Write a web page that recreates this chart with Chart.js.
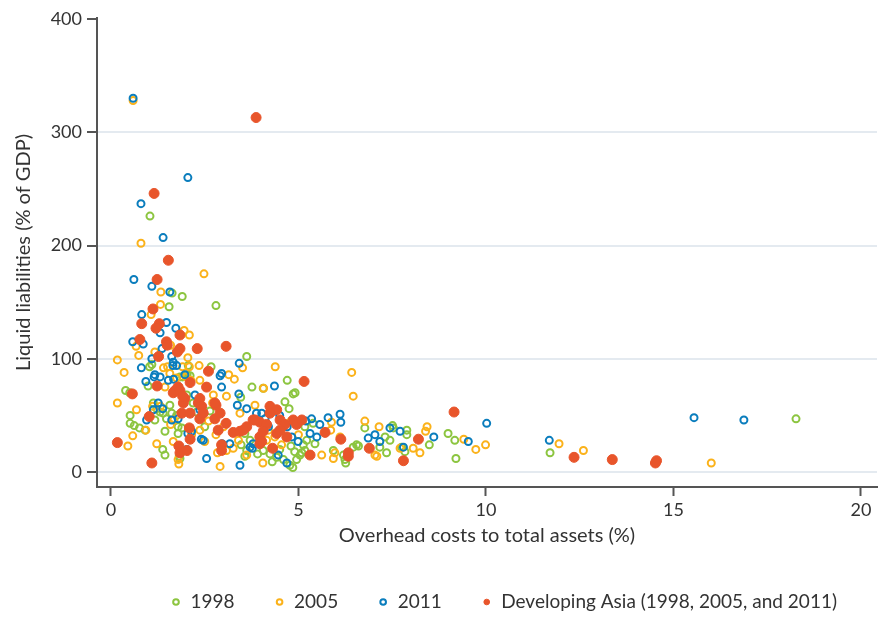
<!DOCTYPE html>
<html>
<head>
<meta charset="utf-8">
<script src="https://cdn.jsdelivr.net/npm/chart.js@4.4.1/dist/chart.umd.min.js"></script>
<style>
  html, body { margin: 0; padding: 0; background: #fff; }
  #wrap { width: 878px; height: 618px; }
</style>
</head>
<body>
<div id="wrap"><canvas id="chart" width="878" height="618"></canvas></div>
<script>
'use strict';

// Overhead costs to total assets (%) vs liquid liabilities (% of GDP)
const x1998 = [1.04, 1.63, 1.90, 1.55, 2.80, 3.62, 1.09, 1.03, 2.67, 2.06, 1.91, 2.03, 1.84, 2.11, 3.76, 4.70, 3.46, 0.39, 0.50, 0.99,
    0.51, 0.51, 0.62, 0.76, 0.91, 1.17, 1.39, 1.44, 1.38, 1.57, 1.79, 1.75, 1.82, 1.84, 1.13, 1.22, 1.31, 1.48, 1.62, 1.44,
    1.89, 1.79, 2.29, 2.19, 2.02, 3.47, 3.62, 3.57, 3.91, 4.06, 4.64, 4.75, 4.91, 4.86, 4.06, 4.24, 4.42, 4.60, 4.77, 4.95,
    5.04, 5.17, 5.13, 3.71, 5.17, 5.39, 5.22, 5.44, 6.77, 7.31, 7.44, 7.53, 7.89, 6.46, 6.20, 6.60, 5.93, 6.24, 5.09, 7.89,
    8.99, 9.17, 8.49, 9.20, 7.84, 7.75, 11.71, 18.27, 7.51, 7.17, 7.35, 6.55, 6.26, 4.50, 4.80, 4.90, 4.30, 4.85, 3.57, 2.64, 2.50];
const y1998 = [226, 158, 155, 146, 147, 102, 95, 93, 93, 94, 84, 86, 84, 85, 75, 81, 66, 72, 70, 76,
    50, 43, 41, 39, 37, 46, 52, 36, 20, 59, 40, 50, 14, 12, 61, 56, 53, 47, 52, 15,
    39, 34, 53, 61, 68, 24, 19, 14, 16, 74, 62, 56, 70, 69, 19, 16, 13, 11, 6, 11,
    15, 19, 24, 28, 40, 43, 28, 25, 39, 31, 28, 39, 37, 22, 15, 23, 19, 11, 17, 33,
    34, 28, 24, 12, 18, 22, 17, 47, 41, 22, 17, 24, 8, 20, 23, 18, 9, 4, 34, 54, 40];

const x2005 = [0.59, 0.80, 2.48, 1.33, 1.32, 1.07, 1.95, 2.09, 0.67, 1.59, 1.17, 0.74, 2.05, 0.17, 0.35, 1.40, 1.51, 1.91, 2.09, 2.35,
    3.51, 4.38, 2.13, 3.14, 3.29, 4.07, 2.73, 3.08, 0.17, 0.68, 0.58, 0.45, 0.93, 1.22, 1.11, 1.32, 1.59, 1.68, 1.66, 1.81,
    2.50, 2.91, 2.84, 3.08, 3.26, 4.05, 1.57, 1.44, 1.79, 2.37, 2.15, 2.37, 2.00, 1.75, 2.71, 3.84, 3.44, 3.62, 4.55, 3.40,
    4.15, 4.37, 6.42, 6.46, 5.88, 5.86, 6.77, 7.15, 7.04, 7.71, 5.62, 5.97, 6.11, 8.43, 8.39, 9.41, 8.06, 8.24, 9.73, 9.99,
    11.95, 12.60, 16.01, 7.09, 5.93, 2.60, 3.00, 4.80, 5.00, 4.20, 2.80];
const y2005 = [328, 202, 175, 159, 148, 139, 125, 121, 111, 112, 106, 103, 101, 99, 88, 92, 93, 93, 93, 94,
    92, 93, 81, 86, 82, 74, 68, 67, 61, 55, 32, 23, 37, 25, 58, 58, 42, 46, 27, 7,
    27, 5, 17, 19, 21, 8, 87, 75, 11, 37, 33, 81, 84, 83, 61, 59, 52, 15, 24, 28,
    28, 31, 88, 67, 44, 37, 45, 40, 15, 21, 15, 17, 31, 40, 36, 29, 21, 17, 20, 24,
    25, 19, 8, 14, 12, 45, 40, 45, 33, 37, 33];

const x2011 = [0.59, 2.05, 0.80, 1.39, 0.61, 1.09, 1.57, 0.82, 1.48, 1.31, 1.73, 0.58, 0.86, 1.36, 1.09, 1.62, 1.66, 0.81, 1.65, 1.75,
    3.42, 1.15, 0.93, 1.67, 2.91, 2.95, 4.36, 2.95, 3.41, 0.95, 1.26, 1.38, 2.02, 2.05, 2.15, 2.41, 2.46, 2.55, 3.44, 2.96,
    3.17, 3.77, 1.17, 1.13, 1.62, 1.79, 1.97, 1.53, 1.31, 2.24, 2.37, 3.37, 3.62, 3.88, 4.02, 4.11, 4.46, 4.69, 3.71, 3.79,
    4.82, 4.99, 5.35, 5.79, 6.11, 6.13, 5.57, 5.49, 5.31, 7.04, 7.17, 7.44, 7.71, 7.80, 8.61, 9.53, 10.02, 11.69, 15.55, 16.88,
    6.86, 4.50, 4.70, 5.20, 4.20];
const y2011 = [330, 260, 237, 207, 170, 164, 159, 139, 132, 123, 127, 115, 113, 109, 100, 102, 97, 92, 94, 94,
    96, 84, 80, 82, 85, 87, 76, 75, 69, 46, 61, 56, 20, 34, 36, 29, 28, 12, 6, 25,
    25, 21, 86, 55, 46, 47, 86, 81, 84, 68, 55, 59, 56, 52, 52, 47, 15, 8, 22, 25,
    31, 27, 47, 48, 51, 44, 42, 31, 34, 33, 27, 39, 36, 22, 31, 27, 43, 28, 48, 46,
    30, 50, 40, 45, 40];

const xAsia = [3.87, 1.15, 1.53, 1.23, 1.12, 0.82, 1.29, 1.20, 1.84, 0.77, 1.48, 1.50, 2.30, 3.07, 1.84, 1.77, 1.27, 2.60, 0.57, 1.23,
    1.71, 1.66, 1.79, 2.11, 1.97, 1.93, 2.33, 2.37, 1.89, 2.11, 2.37, 2.42, 2.55, 1.02, 2.09, 2.11, 1.81, 1.84, 2.03, 0.17,
    1.09, 2.80, 2.46, 2.77, 3.07, 2.86, 3.26, 3.44, 3.62, 3.79, 3.97, 4.15, 4.24, 4.42, 4.51, 4.64, 3.97, 3.97, 4.31, 4.42,
    4.69, 4.86, 4.95, 5.15, 4.24, 4.51, 2.77, 2.91, 3.53, 3.84, 4.06, 4.02, 5.09, 2.95, 2.95, 5.71, 6.13, 6.33, 6.33, 6.89,
    7.80, 5.31, 8.20, 9.15, 12.35, 13.37, 14.55, 14.52, 1.84, 1.91];
const yAsia = [313, 246, 187, 170, 144, 131, 131, 127, 121, 117, 115, 112, 109, 111, 109, 106, 102, 89, 69, 76,
    72, 70, 75, 79, 65, 61, 61, 65, 52, 52, 47, 58, 75, 49, 39, 29, 23, 17, 19, 26,
    8, 59, 52, 47, 43, 37, 35, 36, 40, 46, 44, 42, 58, 55, 46, 42, 31, 25, 21, 34,
    31, 46, 42, 80, 52, 37, 61, 52, 37, 46, 36, 27, 46, 24, 19, 35, 29, 14, 17, 21,
    10, 15, 29, 53, 13, 11, 10, 8, 72, 67];

const GREEN = '#8cc540';
const ORANGE = '#fbb21a';
const BLUE = '#0a7dbd';
const RED = '#e8552b';
const INK = '#333333';
const AXIS = '#555555';

function toPoints(xs, ys) {
    return xs.map((x, i) => ({ x: x, y: ys[i] }));
}

// hollow rings for the yearly samples; the Asian economies go on top as filled dots
function ringSet(label, color, xs, ys, order) {
    return {
        label: label,
        data: toPoints(xs, ys),
        order: order,
        pointStyle: 'circle',
        pointRadius: 3.5,
        pointHoverRadius: 3.5,
        borderWidth: 2,
        borderColor: color,
        backgroundColor: 'rgba(0,0,0,0)'
    };
}

Chart.defaults.font.family = 'Lato, "Open Sans", sans-serif';
Chart.defaults.color = INK;

const ctx = document.getElementById('chart').getContext('2d');

new Chart(ctx, {
    type: 'scatter',
    data: {
        datasets: [
            ringSet('1998', GREEN, x1998, y1998, 4),
            ringSet('2005', ORANGE, x2005, y2005, 3),
            ringSet('2011', BLUE, x2011, y2011, 2),
            {
                label: 'Developing Asia (1998, 2005, and 2011)',
                data: toPoints(xAsia, yAsia),
                order: 1,
                pointStyle: 'circle',
                pointRadius: 5,
                pointHoverRadius: 5,
                borderWidth: 1,
                borderColor: RED,
                backgroundColor: RED
            }
        ]
    },
    options: {
        responsive: false,
        animation: false,
        devicePixelRatio: 1,
        // autoPadding would reserve room for the dot radius and pull the right edge in
        layout: { autoPadding: false, padding: { top: 18, right: 1, bottom: 0, left: 0 } },
        plugins: {
            tooltip: { enabled: false },
            legend: {
                position: 'bottom',
                align: 'end',
                maxHeight: 65.5,
                labels: {
                    usePointStyle: true,
                    boxWidth: 10,
                    boxHeight: 4,
                    padding: 40,
                    color: INK,
                    font: { size: 19 },
                    sort: (a, b) => a.datasetIndex - b.datasetIndex
                }
            }
        },
        scales: {
            x: {
                type: 'linear',
                min: -0.373,
                max: 20.43,
                ticks: { stepSize: 5, includeBounds: false, color: INK, font: { size: 18 }, padding: 3 },
                grid: { drawOnChartArea: false, tickLength: 9, tickColor: AXIS, tickWidth: 2 },
                border: { color: AXIS, width: 2 },
                title: {
                    display: true,
                    text: 'Overhead costs to total assets (%)',
                    color: INK,
                    font: { size: 20 },
                    padding: { top: 4, bottom: 4.5 }
                },
                afterFit: (scale) => {
                    scale.height = 65.5;
                    scale.paddingLeft = 0;
                    scale.paddingRight = 0;
                }
            },
            y: {
                type: 'linear',
                min: -13.2,
                max: 400.9,
                ticks: { stepSize: 100, includeBounds: false, color: INK, font: { size: 18 }, padding: 5 },
                grid: {
                    // no rule at 400, it sits on the top edge of the plot
                    color: (c) => (c.tick && c.tick.value === 400) ? 'rgba(0,0,0,0)' : '#e4eaf0',
                    lineWidth: 2,
                    tickLength: 10,
                    tickColor: AXIS,
                    tickWidth: 2
                },
                border: { color: AXIS, width: 2 },
                title: {
                    display: true,
                    text: 'Liquid liabilities (% of GDP)',
                    color: INK,
                    font: { size: 20 },
                    padding: { top: 12, bottom: 0 }
                },
                afterFit: (scale) => { scale.width = 97; }
            }
        }
    }
});
</script>
</body>
</html>
